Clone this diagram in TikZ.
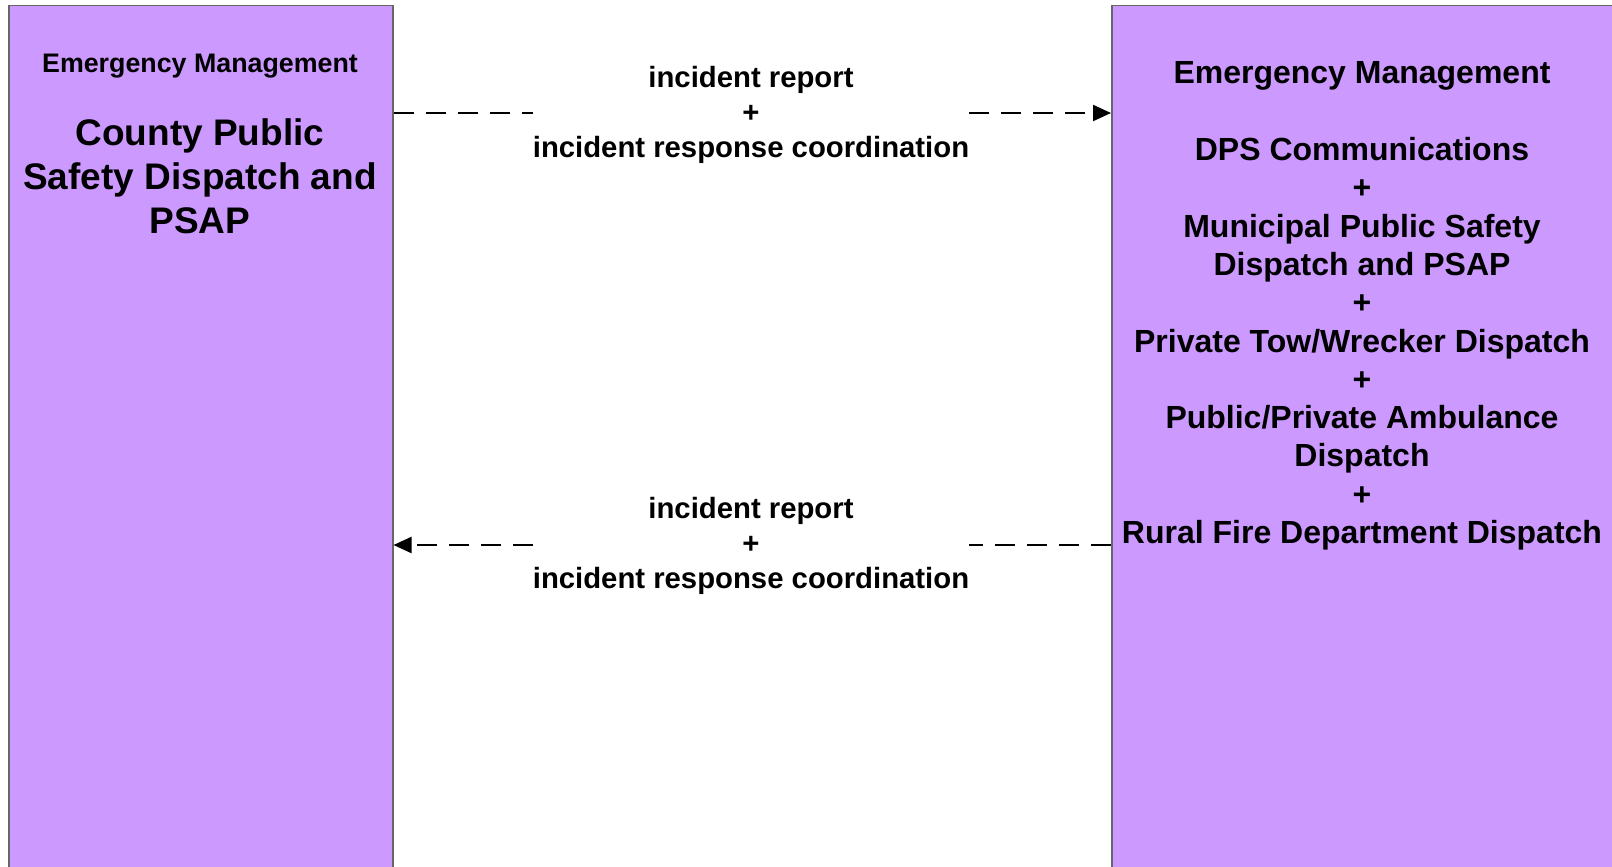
\documentclass[tikz,border=0pt]{standalone}
\usepackage{fontspec}
\setmainfont{Liberation Sans}
\usetikzlibrary{arrows.meta}
\definecolor{boxfill}{HTML}{CC99FF}
\definecolor{boxline}{HTML}{666666}
\begin{document}
\begin{tikzpicture}[x=1pt,y=-1pt,
  sysbox/.style={draw=boxline, line width=1.5pt, fill=boxfill, anchor=north west, inner sep=0pt},
  flowline/.style={line width=2.2pt, dash pattern=on 20pt off 12pt},
  flowtip/.style={-{Triangle[length=18pt,width=16pt]}},
  lbl/.style={font=\bfseries\fontsize{29.3}{35}\selectfont, align=center, inner sep=0pt},
  rtxt/.style={font=\bfseries\fontsize{32}{38}\selectfont, anchor=base, inner sep=0pt},
  ltitle/.style={font=\bfseries\fontsize{26.8}{32}\selectfont, anchor=base, inner sep=0pt},
  lbig/.style={font=\bfseries\fontsize{37}{44}\selectfont, anchor=base, inner sep=0pt}
]
\useasboundingbox (0,0) rectangle (1612,867);
\clip (0,0) rectangle (1612,867);
\node[sysbox, minimum width=384pt, minimum height=880pt] (L) at (8,5) {};
\node[sysbox, minimum width=520pt, minimum height=880pt] (R) at (1111,5) {};
% left box text
\node[ltitle] (lt0) at (200,73) {Emergency Management};
\node[lbig] (lt1) at (200,145) {County Public};
\node[lbig] (lt2) at (200,189) {Safety Dispatch and};
\node[lbig] (lt3) at (200,233) {PSAP};
% right box text
\node[rtxt] (rt0) at (1362,84) {Emergency Management};
\node[rtxt] (rt1) at (1362,160.5) {DPS Communications};
\node[rtxt] (rt2) at (1362,198.8) {+};
\node[rtxt] (rt3) at (1362,237.1) {Municipal Public Safety};
\node[rtxt] (rt4) at (1362,275.4) {Dispatch and PSAP};
\node[rtxt] (rt5) at (1362,313.7) {+};
\node[rtxt] (rt6) at (1362,352.0) {Private Tow/Wrecker Dispatch};
\node[rtxt] (rt7) at (1362,390.3) {+};
\node[rtxt] (rt8) at (1362,428.6) {Public/Private Ambulance};
\node[rtxt] (rt9) at (1362,466.9) {Dispatch};
\node[rtxt] (rt10) at (1362,505.2) {+};
\node[rtxt] (rt11) at (1362,543.5) {Rural Fire Department Dispatch};
% flows
\coordinate (y1) at (0,113);
\coordinate (y2) at (0,545);
\node[lbl] (a1) at (751,115) {incident report\\+\\incident response coordination};
\node[lbl] (a2) at (751,546) {incident report\\+\\incident response coordination};
\draw[flowline] (L.east |- y1) -- (a1.west |- y1);
\draw[flowline, flowtip] (a1.east |- y1) -- (R.west |- y1);
\draw[flowline] (R.west |- y2) -- (a2.east |- y2);
\draw[flowline, flowtip] (a2.west |- y2) -- (L.east |- y2);
\end{tikzpicture}
\end{document}
